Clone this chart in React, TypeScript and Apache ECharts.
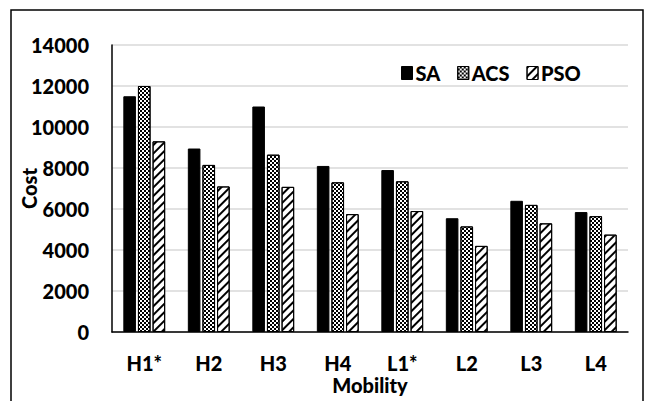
import React, { useEffect, useRef } from "react";
import * as echarts from "echarts";

const categories = ["H1*", "H2", "H3", "H4", "L1*", "L2", "L3", "L4"];
const saValues = [11500, 8950, 11000, 8100, 7900, 5550, 6400, 5850];
const acsValues = [12000, 8150, 8650, 7300, 7350, 5150, 6200, 5650];
const psoValues = [9300, 7100, 7080, 5750, 5900, 4200, 5300, 4750];
const seriesNames = ["SA", "ACS", "PSO"];

const FONT = "Lato";

export default function App() {
  const ref = useRef<HTMLDivElement>(null);
  useEffect(() => {
    if (!ref.current) return;
    const chart = echarts.init(ref.current, undefined, { renderer: "svg" });
    const acsDecal = {
      symbol: "rect",
      symbolSize: 1,
      dashArrayX: [
        [2, 2],
        [0, 2, 2, 0],
      ],
      dashArrayY: [2, 0],
      rotation: 0,
      color: "#000",
      backgroundColor: "#fff",
    };
    const psoDecal = {
      symbol: "rect",
      symbolSize: 1,
      dashArrayX: [1, 0],
      dashArrayY: [1.6, 3.4],
      rotation: -Math.PI / 4,
      color: "#000",
      backgroundColor: "#fff",
    };
    const barBase = {
      type: "bar",
      barWidth: 12.6,
      barGap: "16%",
    };
    const txt = { fontFamily: FONT, fontWeight: 900, fontSize: 20, color: "#000" };
    chart.setOption({
      animation: false,
      backgroundColor: "#fff",
      textStyle: { fontFamily: FONT },
      graphic: [
        {
          type: "rect",
          shape: { x: 11, y: 10, width: 632, height: 420 },
          style: { fill: "none", stroke: "#000", lineWidth: 1.5 },
          silent: true,
        },
      ],
      legend: {
        left: 396,
        top: 58,
        icon: "rect",
        itemWidth: 11,
        itemHeight: 13,
        itemGap: 17,
        itemStyle: { borderColor: "#000", borderWidth: 1 },
        textStyle: { ...txt, padding: [0, 0, 0, -2] },
        data: seriesNames,
      },
      grid: { left: 112, right: 19, top: 45, bottom: 69, outerBoundsMode: "none", containLabel: false },
      xAxis: {
        type: "category",
        data: categories,
        name: "Mobility",
        nameLocation: "middle",
        nameGap: 45,
        nameMoveOverlap: false,
        nameTextStyle: { ...txt, lineHeight: 16 },
        axisLine: { lineStyle: { color: "#000", width: 1.5 } },
        axisTick: { show: false },
        axisLabel: { margin: 23, ...txt, lineHeight: 16 },
      },
      yAxis: {
        type: "value",
        min: 0,
        max: 14000,
        interval: 2000,
        name: "Cost",
        nameLocation: "middle",
        nameGap: 73,
        nameMoveOverlap: false,
        nameTextStyle: txt,
        axisLine: { show: true, lineStyle: { color: "#000", width: 1.5 } },
        axisTick: { show: false },
        axisLabel: { margin: 23, ...txt, formatter: (v: number) => String(v) },
        splitLine: { lineStyle: { color: "#d9d9d9", width: 1.5 } },
      },
      series: [
        {
          ...barBase,
          name: seriesNames[0],
          data: saValues,
          itemStyle: { color: "#000", borderColor: "#000", borderWidth: 1 },
        },
        {
          ...barBase,
          name: seriesNames[1],
          data: acsValues,
          itemStyle: { color: "#fff", borderColor: "#000", borderWidth: 1, decal: acsDecal },
        },
        {
          ...barBase,
          name: seriesNames[2],
          data: psoValues,
          itemStyle: { color: "#fff", borderColor: "#000", borderWidth: 1, decal: psoDecal },
        },
      ],
    });
    return () => chart.dispose();
  }, []);
  return (
    <div
      ref={ref}
      style={{ position: "fixed", left: 0, top: 0, width: 647, height: 401 }}
    />
  );
}
